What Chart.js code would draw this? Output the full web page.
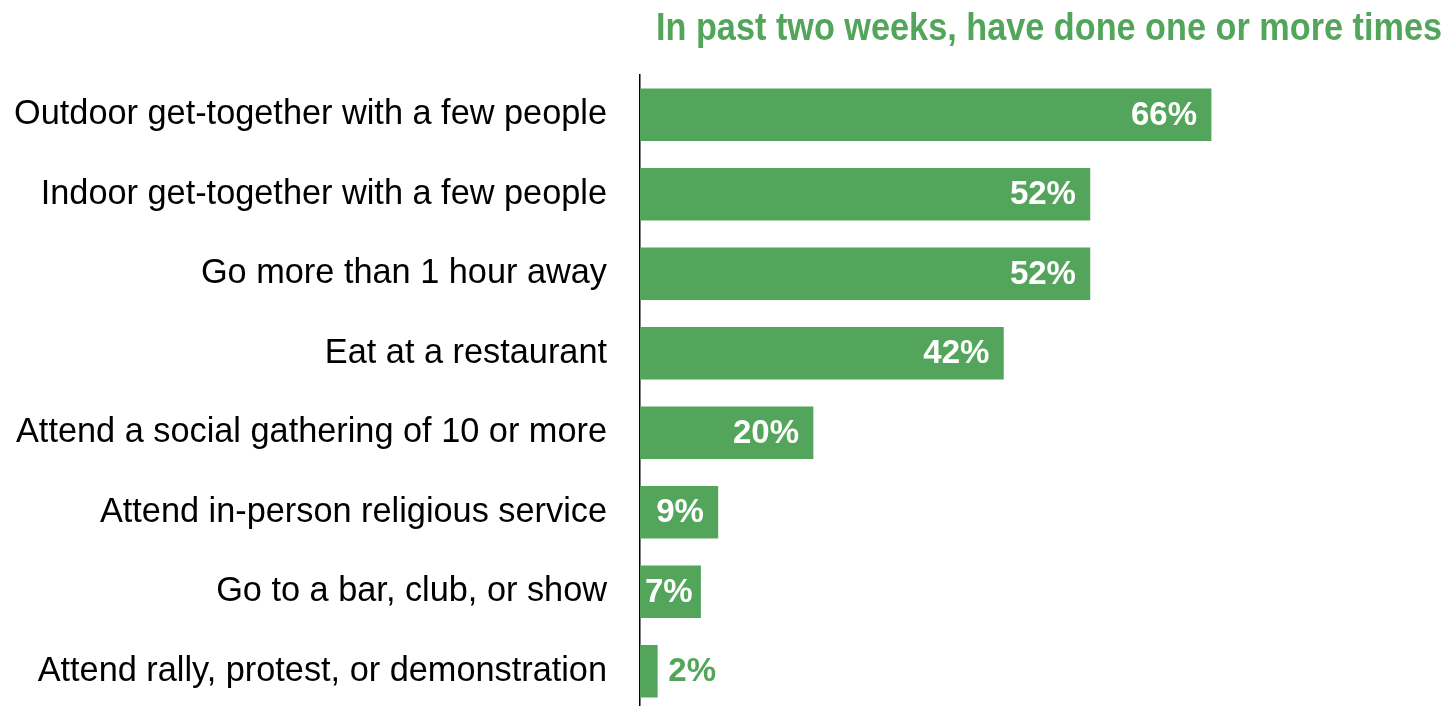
<!DOCTYPE html>
<html>
<head>
<meta charset="utf-8">
<script src="https://cdn.jsdelivr.net/npm/chart.js@4.4.1/dist/chart.umd.min.js"></script>
<style>
  html, body { margin: 0; padding: 0; background: #ffffff; overflow: hidden; }
  canvas { display: block; }
</style>
</head>
<body>
<canvas id="chart" width="1449" height="711"></canvas>
<script>
// Share of respondents who did each activity in the past two weeks
const titleText = 'In past two weeks, have done one or more times';
const activities = [
  'Outdoor get-together with a few people',
  'Indoor get-together with a few people',
  'Go more than 1 hour away',
  'Eat at a restaurant',
  'Attend a social gathering of 10 or more',
  'Attend in-person religious service',
  'Go to a bar, club, or show',
  'Attend rally, protest, or demonstration'
];
const percentDone = [66, 52, 52, 42, 20, 9, 7, 2];

const GREEN = '#52a55a';
const FONT = '"Liberation Sans", Arial, Helvetica, sans-serif';

// Header text, squeezed horizontally into its box at the top right
const headerPlugin = {
  id: 'header',
  afterDraw(chart) {
    const ctx = chart.ctx;
    ctx.save();
    ctx.font = 'bold 39px ' + FONT;
    ctx.fillStyle = GREEN;
    ctx.textAlign = 'right';
    ctx.textBaseline = 'alphabetic';
    const w = ctx.measureText(titleText).width;
    const targetW = 786;
    ctx.translate(1442, 40);
    ctx.scale(targetW / w, 1);
    ctx.fillText(titleText, 0, 0);
    ctx.restore();
  }
};

// Percentage labels: white inside the bar end, green just past short bars
const valueLabels = {
  id: 'valueLabels',
  afterDatasetsDraw(chart) {
    const ctx = chart.ctx;
    const meta = chart.getDatasetMeta(0);
    ctx.save();
    ctx.font = 'bold 33px ' + FONT;
    ctx.textBaseline = 'middle';
    ctx.textAlign = 'left';
    meta.data.forEach((bar, i) => {
      const txt = percentDone[i] + '%';
      const w = ctx.measureText(txt).width;
      const barW = bar.x - bar.base;
      if (w + 8 <= barW) {
        const right = Math.max(bar.x - 14, bar.base + 5 + w);
        ctx.fillStyle = '#ffffff';
        ctx.fillText(txt, right - w, bar.y + 1);
      } else {
        ctx.fillStyle = GREEN;
        ctx.fillText(txt, bar.x + 11, bar.y + 1);
      }
    });
    ctx.restore();
  }
};

new Chart(document.getElementById('chart'), {
  type: 'bar',
  data: {
    labels: activities,
    datasets: [{
      data: percentDone,
      backgroundColor: GREEN,
      borderWidth: 0,
      barThickness: 52
    }]
  },
  options: {
    indexAxis: 'y',
    responsive: false,
    animation: false,
    devicePixelRatio: 1,
    layout: { padding: { top: 75, right: 0, bottom: 0, left: 0 } },
    plugins: {
      legend: { display: false },
      title: { display: false },
      tooltip: { enabled: false }
    },
    scales: {
      x: {
        display: false,
        min: 0,
        max: 93.5
      },
      y: {
        afterFit(scale) {
          // fixed label column; no extra room above/below the plot
          scale.width = 640;
          scale.paddingTop = 0;
          scale.paddingBottom = 0;
        },
        grid: { display: false, drawTicks: false },
        border: { display: true, color: '#000000', width: 1.5 },
        ticks: {
          color: '#000000',
          padding: 33,
          font: { family: FONT, size: 34.3 }
        }
      }
    }
  },
  plugins: [headerPlugin, valueLabels]
});
</script>
</body>
</html>
